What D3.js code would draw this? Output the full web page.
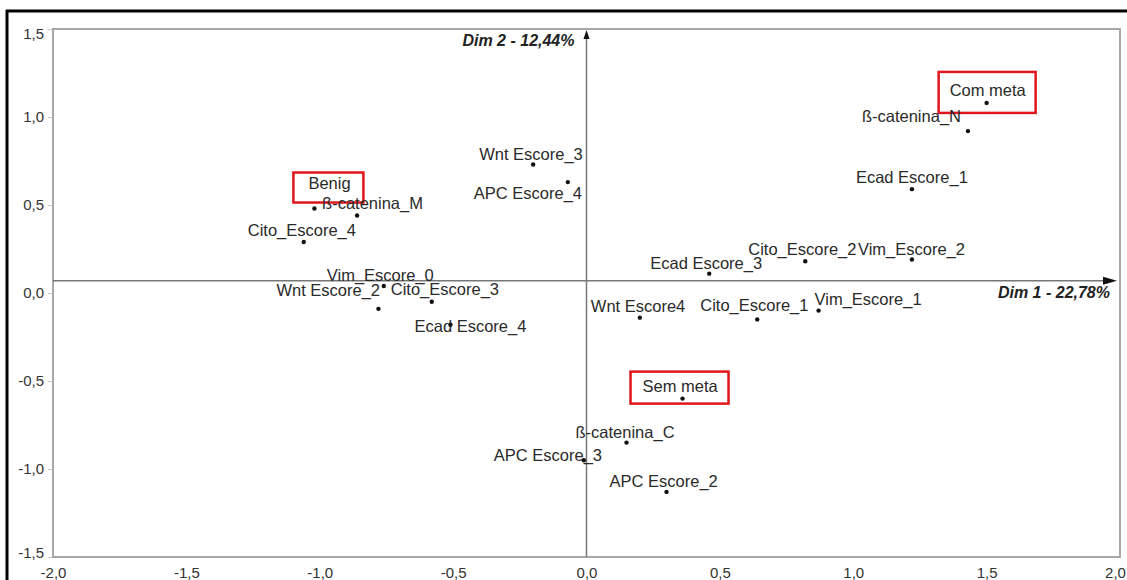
<!DOCTYPE html>
<html>
<head>
<meta charset="utf-8">
<script src="https://cdn.jsdelivr.net/npm/d3@7"></script>
<style>
  body { margin: 0; background: #fff; }
  svg text { font-family: 'Liberation Sans', Arial, sans-serif; }
</style>
</head>
<body>
<svg id="chart"></svg>
<script>
// categories and coordinates
const names = [
  'Com meta', 'ß-catenina_N', 'Ecad Escore_1', 'Cito_Escore_2', 'Vim_Escore_2',
  'Ecad Escore_3', 'Wnt Escore4', 'Cito_Escore_1', 'Vim_Escore_1', 'Sem meta',
  'ß-catenina_C', 'APC Escore_3', 'APC Escore_2', 'Wnt Escore_3', 'APC Escore_4',
  'Benig', 'ß-catenina_M', 'Cito_Escore_4', 'Vim_Escore_0', 'Wnt Escore_2',
  'Cito_Escore_3', 'Ecad Escore_4'
]
const dim1 = [
  1.50, 1.43, 1.22, 0.82, 1.22,
  0.46, 0.20, 0.64, 0.87, 0.36,
  0.15, -0.01, 0.30, -0.20, -0.07,
  -1.02, -0.86, -1.06, -0.76, -0.78,
  -0.58, -0.51
]
const dim2 = [
  1.08, 0.92, 0.59, 0.18, 0.19,
  0.11, -0.14, -0.15, -0.10, -0.60,
  -0.85, -0.95, -1.13, 0.73, 0.63,
  0.48, 0.44, 0.29, 0.04, -0.09,
  -0.05, -0.18
]
const groups = ['Com meta', 'Benig', 'Sem meta']
const xTicks = [-2, -1.5, -1, -0.5, 0, 0.5, 1, 1.5, 2]
const yTicks = [-1.5, -1, -0.5, 0, 0.5, 1, 1.5]
const xTitle = 'Dim 1 - 22,78%'
const yTitle = 'Dim 2 - 12,44%'

// label placement relative to the point (px)
const labelOffset = {
  'Com meta': [-37, -13], 'ß-catenina_N': [-106, -15], 'Ecad Escore_1': [-56, -12],
  'Cito_Escore_2': [-57, -12], 'Vim_Escore_2': [-54, -11], 'Ecad Escore_3': [-59, -11],
  'Wnt Escore4': [-49, -12], 'Cito_Escore_1': [-57, -14], 'Vim_Escore_1': [-4, -12],
  'Sem meta': [-40, -13], 'ß-catenina_C': [-51, -11], 'APC Escore_3': [-90, -5],
  'APC Escore_2': [-57, -11], 'Wnt Escore_3': [-54, -11], 'APC Escore_4': [-94, 11],
  'Benig': [-6, -26], 'ß-catenina_M': [-35, -13], 'Cito_Escore_4': [-56, -12],
  'Vim_Escore_0': [-57, -11], 'Wnt Escore_2': [-102, -19], 'Cito_Escore_3': [-41, -13],
  'Ecad Escore_4': [-36, 1]
}
// red frames round the group points: [x0, y0, x1, y1] relative to the point
const boxOffset = {
  'Com meta': [-48, -31, 49, 10],
  'Benig': [-21, -36, 49, -6],
  'Sem meta': [-52, -27, 46, 5]
}

const w = 1127
const h = 580
const padL = 53
const padR = 1120
const padT = 29
const padB = 557
const originY = 0.07

const fmt = (d) => d.toFixed(1).replace('.', ',')

const svg = d3.select('#chart').attr('width', w).attr('height', h)

const x = d3.scaleLinear().domain([-2, 2]).range([padL, padR])
const y = d3.scaleLinear().domain([-1.5, 1.5]).range([padB, padT])

// outer border (top + left)
svg.append('line').attr('x1', 6).attr('x2', w).attr('y1', 11).attr('y2', 11)
  .attr('stroke', '#000').attr('stroke-width', 3)
svg.append('line').attr('x1', 7).attr('x2', 7).attr('y1', 10).attr('y2', h)
  .attr('stroke', '#000').attr('stroke-width', 3)

// plot frame
svg.append('rect')
  .attr('x', padL).attr('y', padT)
  .attr('width', padR - padL).attr('height', padB - padT)
  .attr('fill', 'none').attr('stroke', '#a8a8a8').attr('stroke-width', 2)

const yAxis = svg.append('g')
  .attr('transform', `translate(${padL - 1},0)`)
  .call(d3.axisLeft(y).tickValues(yTicks).tickSize(4).tickPadding(4).tickFormat(fmt))
yAxis.select('.domain').remove()
yAxis.selectAll('line').attr('stroke', '#c8c8c8')
yAxis.selectAll('text').attr('font-size', 15).attr('fill', '#333')
  .attr('dy', (d) => d === 1.5 ? '0.62em' : d === -1.5 ? '0.05em' : '0.32em')

const xAxis = svg.append('g')
  .attr('transform', `translate(0,${padB})`)
  .call(d3.axisBottom(x).tickValues(xTicks).tickSize(0).tickPadding(10).tickFormat(fmt))
xAxis.select('.domain').remove()
xAxis.selectAll('text').attr('font-size', 15).attr('fill', '#333')
  .attr('dx', (d) => d === 2 ? -5 : 0)

// axes through the origin
const x0 = x(0)
const y0 = y(originY)
svg.append('line').attr('x1', x0).attr('x2', x0).attr('y1', padB).attr('y2', padT + 6)
  .attr('stroke', '#777').attr('stroke-width', 1.5)
svg.append('path')
  .attr('d', `M${x0},${padT + 1}L${x0 - 3},${padT + 10}L${x0 + 3},${padT + 10}Z`)
  .attr('fill', '#111')
svg.append('line').attr('x1', padL).attr('x2', 1106).attr('y1', y0).attr('y2', y0)
  .attr('stroke', '#777').attr('stroke-width', 1.5)
svg.append('path')
  .attr('d', `M1117,${y0}L1103,${y0 - 4}L1103,${y0 + 4}Z`)
  .attr('fill', '#111')

svg.append('text')
  .attr('x', x0 - 12).attr('y', 40)
  .attr('text-anchor', 'end').attr('dominant-baseline', 'central')
  .attr('font-size', 16).attr('font-weight', 'bold').attr('font-style', 'italic')
  .attr('fill', '#222').text(yTitle)
svg.append('text')
  .attr('x', 1110).attr('y', y0 + 12)
  .attr('text-anchor', 'end').attr('dominant-baseline', 'central')
  .attr('font-size', 16).attr('font-weight', 'bold').attr('font-style', 'italic')
  .attr('fill', '#222').text(xTitle)

const points = names.map((n, i) => ({ name: n, d1: dim1[i], d2: dim2[i] }))

svg.selectAll('rect.box')
  .data(points.filter((p) => groups.includes(p.name)))
  .enter()
  .append('rect')
  .attr('class', 'box')
  .attr('x', (d) => x(d.d1) + boxOffset[d.name][0])
  .attr('y', (d) => y(d.d2) + boxOffset[d.name][1])
  .attr('width', (d) => boxOffset[d.name][2] - boxOffset[d.name][0])
  .attr('height', (d) => boxOffset[d.name][3] - boxOffset[d.name][1])
  .attr('fill', 'none').attr('stroke', '#e0161c').attr('stroke-width', 2.5)

svg.selectAll('text.lbl')
  .data(points)
  .enter()
  .append('text')
  .attr('class', 'lbl')
  .attr('x', (d) => x(d.d1) + labelOffset[d.name][0])
  .attr('y', (d) => y(d.d2) + labelOffset[d.name][1])
  .attr('dominant-baseline', 'central')
  .attr('font-size', 16.5).attr('fill', '#2a2a2a')
  .text((d) => d.name)

svg.selectAll('circle.pt')
  .data(points)
  .enter()
  .append('circle')
  .attr('class', 'pt')
  .attr('cx', (d) => x(d.d1))
  .attr('cy', (d) => y(d.d2))
  .attr('r', 2.2)
  .attr('fill', '#111')
</script>
</body>
</html>
